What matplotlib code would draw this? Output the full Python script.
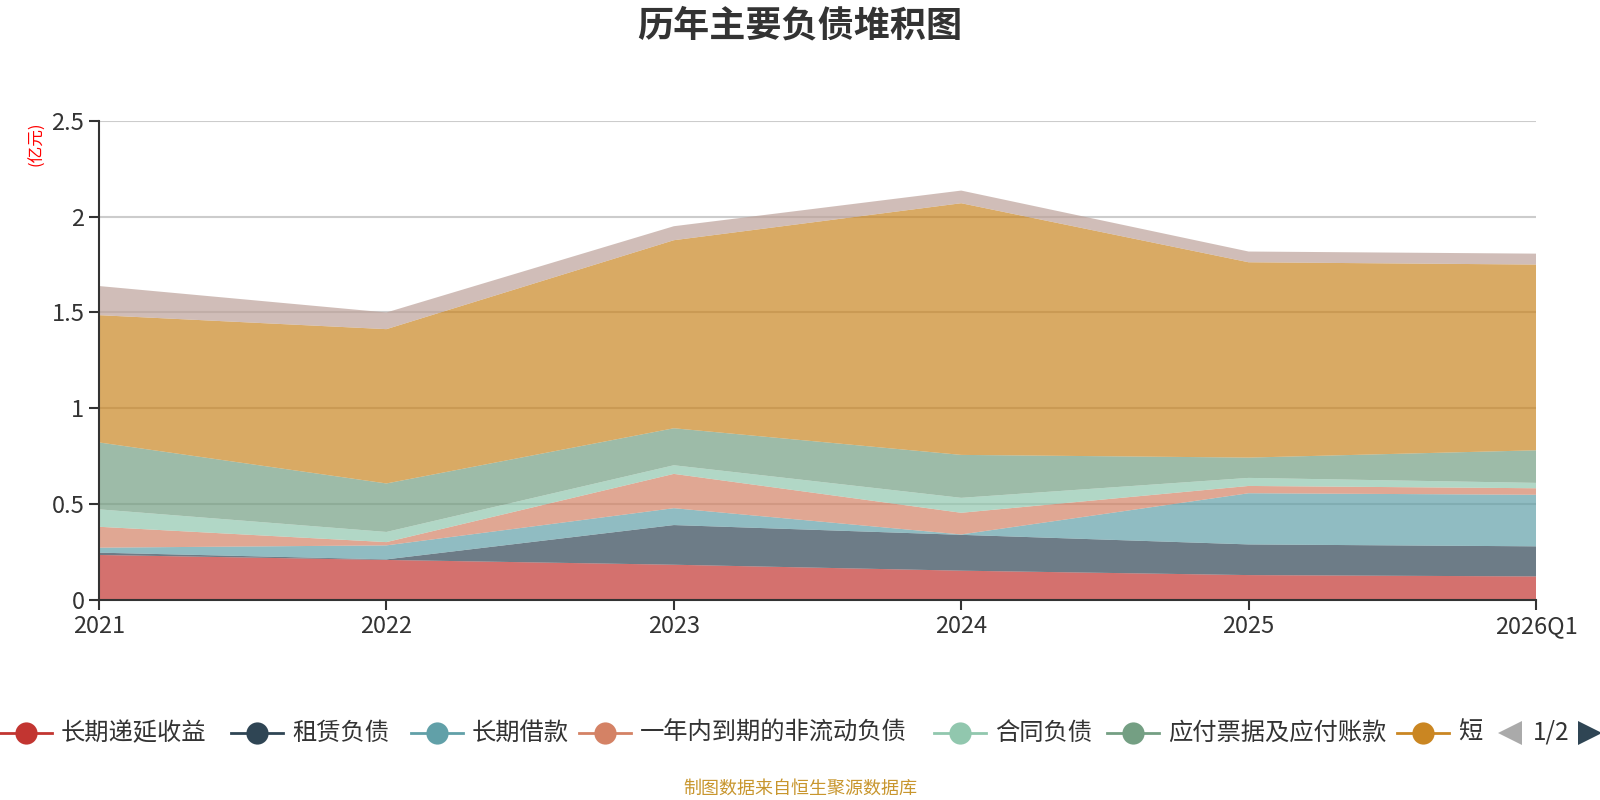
import matplotlib
matplotlib.use("Agg")
import matplotlib.pyplot as plt
from matplotlib.lines import Line2D

plt.rcParams['font.family'] = ['Noto Sans CJK SC', 'DejaVu Sans']

years = ["2021", "2022", "2023", "2024", "2025", "2026Q1"]

# 亿元, bottom to top of the stack
deferred_income = [0.235, 0.209, 0.184, 0.153, 0.130, 0.123]
lease_liab = [0.012, 0.003, 0.207, 0.187, 0.160, 0.157]
long_loans = [0.026, 0.073, 0.088, 0.002, 0.267, 0.269]
current_noncurrent = [0.109, 0.017, 0.179, 0.113, 0.038, 0.034]
contract_liab = [0.091, 0.053, 0.045, 0.078, 0.042, 0.028]
payables = [0.349, 0.253, 0.193, 0.224, 0.106, 0.170]
short_loans = [0.664, 0.805, 0.981, 1.313, 1.019, 0.969]
staff_pay = [0.152, 0.087, 0.073, 0.066, 0.056, 0.057]

names = ["长期递延收益", "租赁负债", "长期借款", "一年内到期的非流动负债",
         "合同负债", "应付票据及应付账款", "短期借款", "应付职工薪酬"]
colors = ["#c23531", "#2f4554", "#61a0a8", "#d48265",
          "#91c7ae", "#749f83", "#ca8622", "#bda29a"]
series = [deferred_income, lease_liab, long_loans, current_noncurrent,
          contract_liab, payables, short_loans, staff_pay]

fig = plt.figure(figsize=(16, 8), dpi=100)
ax = fig.add_axes([0.0619, 0.25, 0.8981, 0.599])

x = list(range(len(years)))
ax.stackplot(x, *series, colors=colors, alpha=0.7, labels=names, linewidth=0)

ax.set_xlim(0, len(years) - 1)
ax.set_ylim(0, 2.5)
ax.set_yticks([0, 0.5, 1, 1.5, 2, 2.5])
ax.set_yticklabels(["0", "0.5", "1", "1.5", "2", "2.5"])
ax.set_xticks(x)
ax.set_xticklabels(years)
ax.yaxis.grid(True, color="#cccccc", linewidth=1.5)
ax.set_axisbelow(True)
for s in ["top", "right"]:
    ax.spines[s].set_visible(False)
for s in ["left", "bottom"]:
    ax.spines[s].set_color("#333333")
    ax.spines[s].set_linewidth(1.5)
ax.tick_params(axis="both", colors="#333333", labelsize=17, length=7, width=1.5)
ax.tick_params(axis="x", pad=4)

fig.text(0.5, 0.967, "历年主要负债堆积图", ha="center", va="center",
         fontsize=26, fontweight="bold", color="#333333")
fig.text(0.023, 0.82, "(亿元)", rotation=90, ha="center", va="center",
         fontsize=12, color="red")
fig.text(0.5, 0.014, "制图数据来自恒生聚源数据库", ha="center", va="center",
         fontsize=13, color="#c8962e")

# paginated legend (page 1 of 2), positions in pixels
marker_x = [26, 257, 437, 605, 960, 1133, 1423]
legend_labels = names[:6] + ["短"]
ly = 800 - 733
for mx, lab, col in zip(marker_x, legend_labels, colors):
    fig.add_artist(Line2D([(mx - 26) / 1600, (mx + 26) / 1600], [ly / 800, ly / 800],
                          color=col, linewidth=2, transform=fig.transFigure))
    fig.add_artist(Line2D([mx / 1600], [ly / 800], marker="o", markersize=16,
                          color=col, markeredgewidth=0, transform=fig.transFigure))
    fig.text((mx + 35) / 1600, ly / 800, lab, ha="left", va="center",
             fontsize=17.5, color="#333333")

fig.add_artist(Line2D([1510 / 1600], [ly / 800], marker="<", markersize=17,
                      color="#aaaaaa", markeredgewidth=0, transform=fig.transFigure))
fig.text(1551 / 1600, ly / 800, "1/2", ha="center", va="center",
         fontsize=17.5, color="#333333")
fig.add_artist(Line2D([1590 / 1600], [ly / 800], marker=">", markersize=17,
                      color="#2f4554", markeredgewidth=0, transform=fig.transFigure))

fig.savefig("out.png", dpi=100)
